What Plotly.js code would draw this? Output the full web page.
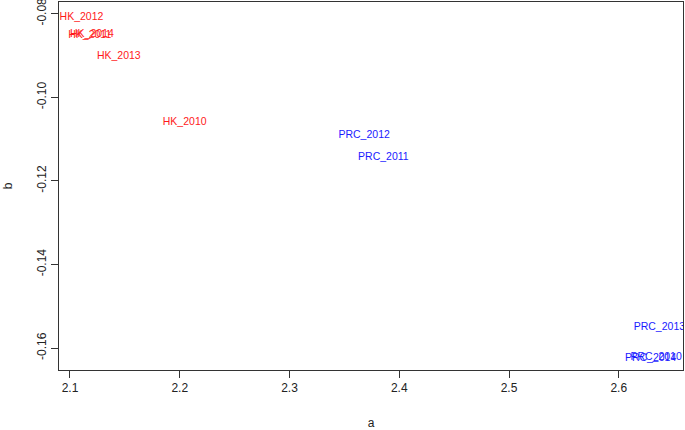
<!DOCTYPE html>
<html><head><meta charset="utf-8">
<script src="https://cdn.plot.ly/plotly-3.0.1.min.js"></script>
<style>html,body{margin:0;padding:0;background:#fff}</style>
</head><body><div id="c" style="width:685px;height:430px"></div>
<script>
const hkLabels = ["HK_2010","HK_2011","HK_2012","HK_2013","HK_2014"];
const hkA = [2.2045, 2.118, 2.1105, 2.1445, 2.120];
const hkB = [-0.1061, -0.0852, -0.0809, -0.0903, -0.0849];
const prcLabels = ["PRC_2010","PRC_2011","PRC_2012","PRC_2013","PRC_2014"];
const prcA = [2.634, 2.3855, 2.368, 2.637, 2.629];
const prcB = [-0.1623, -0.1143, -0.1091, -0.1551, -0.1624];
const xTicks = [2.1,2.2,2.3,2.4,2.5,2.6];
const yTicks = [-0.16,-0.14,-0.12,-0.10,-0.08];

const font = "Liberation Sans, Arial, sans-serif";
const traces = [
  {x: hkA, y: hkB, text: hkLabels, mode: "text", type: "scatter",
   textfont: {family: font, size: 10.5, color: "#ff1a1a"}, textposition: "middle center", hoverinfo: "none"},
  {x: prcA, y: prcB, text: prcLabels, mode: "text", type: "scatter",
   textfont: {family: font, size: 10.5, color: "#1a1aff"}, textposition: "middle center", hoverinfo: "none"}
];
const axBase = {showgrid: false, zeroline: false, showline: true, mirror: true,
  linecolor: "#333", linewidth: 1, ticks: "outside", ticklen: 7, tickcolor: "#333",
  ticklabeloverflow: "allow",
  tickfont: {family: font, size: 12, color: "#222"}};
const layout = {
  width: 685, height: 430, showlegend: false,
  paper_bgcolor: "#fff", plot_bgcolor: "#fff",
  margin: {l: 59, r: 2, t: 2, b: 60},
  xaxis: Object.assign({}, axBase, {range: [2.09, 2.6585], tickvals: xTicks,
    ticktext: xTicks.map(v => v.toFixed(1)),
    title: {text: "a", font: {family: font, size: 12, color: "#222"}, standoff: 27}}),
  yaxis: Object.assign({}, axBase, {range: [-0.16526, -0.0772], tickvals: yTicks,
    ticktext: yTicks.map(v => v.toFixed(2)), tickangle: -90,
    title: {text: "b", font: {family: font, size: 12, color: "#222"}, standoff: 20}})
};
Plotly.newPlot("c", traces, layout, {staticPlot: true});
</script></body></html>
